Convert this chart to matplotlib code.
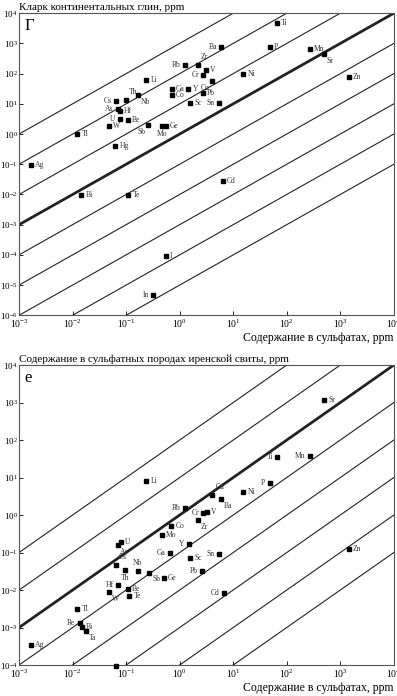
import numpy as np
import matplotlib
matplotlib.use("Agg")
import matplotlib.pyplot as plt

plt.rcParams['font.family'] = ['Liberation Serif', 'DejaVu Serif']
plt.rcParams['mathtext.fontset'] = 'stix'

# panel Г: clarke of continental clays vs content in sulfates, ppm
el_top = ['Ti', 'Ba', 'P', 'Mn', 'Sr', 'Rb', 'Zr', 'V', 'Cr', 'Cu', 'Ni', 'Zn', 'Li',
          'Ga', 'Y', 'Co', 'Pb', 'Sc', 'Sn', 'Cs', 'Th', 'Nb', 'As', 'Hf', 'U', 'Be',
          'W', 'Sb', 'Mo', 'Ge', 'Tl', 'Hg', 'Ag', 'Bi', 'Te', 'Cd', 'I', 'In']
x_top = [66, 6.0, 48, 270, 500, 1.26, 2.2, 3.1, 2.75, 4.0, 15.5, 1450, 0.24,
         0.72, 1.46, 0.72, 2.7, 1.55, 5.4, 0.064, 0.098, 0.17, 0.069, 0.077, 0.076, 0.107,
         0.048, 0.26, 0.47, 0.55, 0.0123, 0.063, 0.00166, 0.0145, 0.11, 6.4, 0.55, 0.32]
y_top = [4570, 760, 740, 660, 450, 190, 190, 130, 89, 56, 95, 78, 60,
         30, 30, 19, 22, 10.7, 10.7, 12.6, 13, 19, 6.6, 5.8, 3.2, 3.0,
         1.9, 2.0, 1.9, 1.9, 0.98, 0.41, 0.098, 0.0093, 0.0093, 0.028, 8.9e-5, 4.6e-6]
pos_top = ['r', 'l', 'r', 'r', 'dr', 'l', 'ur', 'r', 'l', 'dl', 'r', 'r', 'r',
           'r', 'r', 'r', 'r', 'r', 'l', 'l', 'ur', 'dr', 'l', 'r', 'l', 'r',
           'r', 'dl', 'd', 'r', 'r', 'r', 'r', 'r', 'r', 'r', 'r', 'l']

# panel е: content in sulfate rocks of the Irene suite vs content in sulfates, ppm
el_bot = ['Sr', 'Ti', 'Mn', 'P', 'Ni', 'Cu', 'Ba', 'Li', 'Rb', 'Cr', 'V', 'Zr', 'Co',
          'Mo', 'Y', 'Ga', 'Sc', 'Sn', 'Pb', 'Cd', 'Zn', 'U', 'As', 'Cs', 'Th', 'Nb',
          'Sb', 'Ge', 'Hf', 'W', 'Be', 'Te', 'Tl', 'Re', 'Bi', 'Ta', 'Ag', 'Hg']
x_bot = [500, 66, 270, 48, 15.5, 4.1, 6.0, 0.24, 1.26, 2.75, 3.2, 2.2, 0.70,
         0.46, 1.48, 0.66, 1.55, 5.4, 2.6, 6.6, 1450, 0.079, 0.069, 0.066, 0.095, 0.165,
         0.27, 0.51, 0.071, 0.048, 0.107, 0.115, 0.0123, 0.0135, 0.0148, 0.0178, 0.00166, 0.064]
y_bot = [1150, 35, 37, 7.2, 4.2, 3.4, 2.6, 8.1, 1.57, 1.1, 1.23, 0.74, 0.52,
         0.30, 0.166, 0.10, 0.072, 0.091, 0.032, 0.0085, 0.123, 0.19, 0.155, 0.047, 0.034, 0.032,
         0.029, 0.021, 0.014, 0.0087, 0.0107, 0.0071, 0.0032, 0.00135, 0.00105, 0.00081, 0.00035, 9.3e-5]
pos_bot = ['r', 'l', 'l', 'l', 'r', 'ur', 'dr', 'r', 'l', 'l', 'r', 'dr', 'r',
           'r', 'l', 'l', 'r', 'l', 'l', 'l', 'r', 'r', 'dr', 'ur', 'd', 'u',
           'dr', 'r', 'l', 'dr', 'r', 'r', 'r', 'l', 'r', 'dr', 'r', 'u']

offsets = {'r': (3, 0, 'left', 'center'), 'l': (-3, 0, 'right', 'center'),
           'ur': (2, 3, 'left', 'bottom'), 'dr': (2, -2, 'left', 'top'),
           'dl': (-2, -2, 'right', 'top'), 'ul': (-2, 3, 'right', 'bottom'),
           'u': (0, 3, 'center', 'bottom'), 'd': (0, -3, 'center', 'top')}


def draw_panel(ax, els, xs, ys, pos, kmin, kmax, ylim, letter, title):
    xx = np.array([1e-3, 1e4])
    for k in range(kmin, kmax + 1):
        lw = 2.0 if k == 0 else 0.8
        ax.plot(xx, xx * 10.0 ** k, color='#222222', lw=lw, zorder=1)
    ax.plot(xs, ys, 's', color='black', ms=3.4, zorder=3, clip_on=False)
    for e, x, y, p in zip(els, xs, ys, pos):
        dx, dy, ha, va = offsets[p]
        ax.annotate(e, (x, y), xytext=(dx, dy), textcoords='offset points',
                    ha=ha, va=va, fontsize=5.5, color='#333333')
    ax.set_xscale('log')
    ax.set_yscale('log')
    ax.set_xlim(1e-3, 1e4)
    ax.set_ylim(*ylim)
    ax.set_xticks([10.0 ** i for i in range(-3, 5)])
    ax.set_yticks([10.0 ** i for i in range(int(np.log10(ylim[0])), 5)])
    ax.minorticks_off()
    ax.tick_params(direction='in', length=3, width=0.6, labelsize=7, pad=2)
    ax.tick_params(axis='y', labelsize=6.5, pad=1)
    for s in ax.spines.values():
        s.set_linewidth(0.8)
        s.set_color('#555555')
    ax.text(0.015, 0.985, letter, transform=ax.transAxes, ha='left', va='top', fontsize=12)
    ax.text(0.0, 1.01, title, transform=ax.transAxes, ha='left', va='baseline', fontsize=8)
    ax.text(1.0, -0.055, 'Содержание в сульфатах, ppm', transform=ax.transAxes,
            ha='right', va='top', fontsize=8.5)


fig = plt.figure(figsize=(3.97, 6.96), dpi=100)
ax1 = fig.add_axes([0.048, 0.547, 0.944, 0.434])
ax2 = fig.add_axes([0.048, 0.0445, 0.944, 0.431])

draw_panel(ax1, el_top, x_top, y_top, pos_top, -5, 3, (1e-6, 1e4), 'Г',
           'Кларк континентальных глин, ppm')
draw_panel(ax2, el_bot, x_bot, y_bot, pos_bot, -5, 2, (1e-4, 1e4), 'е',
           'Содержание в сульфатных породах иренской свиты, ppm')

fig.savefig('out.png', dpi=100)
